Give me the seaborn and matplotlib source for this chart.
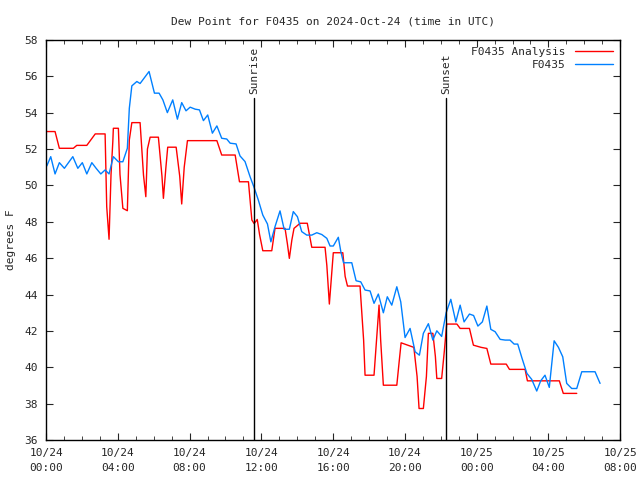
import seaborn as sns
import matplotlib.pyplot as plt
import matplotlib.dates as mdates
import pandas as pd

# hours after 2024-10-24 00:00 UTC
obs_hours = [0.04, 0.26, 0.50, 0.74, 1.02, 1.49, 1.77, 2.02, 2.27, 2.55, 2.79, 3.05, 3.29, 3.51,
             3.75, 4.03, 4.28, 4.53, 4.64, 4.78, 5.06, 5.24, 5.46, 5.74, 6.04, 6.30, 6.51, 6.76,
             7.06, 7.32, 7.56, 7.80, 8.03, 8.31, 8.55, 8.77, 9.01, 9.27, 9.52, 9.79, 10.07, 10.26,
             10.59, 10.81, 11.09, 11.37, 11.59, 11.83, 12.08, 12.34, 12.53, 12.76, 13.04, 13.27,
             13.56, 13.78, 14.01, 14.25, 14.53, 14.81, 15.09, 15.37, 15.65, 15.83, 16.01, 16.29,
             16.43, 16.58, 17.04, 17.28, 17.54, 17.78, 18.06, 18.28, 18.52, 18.80, 19.02, 19.27,
             19.55, 19.77, 20.01, 20.29, 20.57, 20.81, 21.03, 21.31, 21.56, 21.78, 22.05, 22.30,
             22.56, 22.84, 23.08, 23.30, 23.60, 23.83, 24.07, 24.32, 24.57, 24.79, 25.03, 25.31,
             25.59, 25.86, 26.09, 26.29, 26.53, 26.80, 27.07, 27.35, 27.57, 27.81, 28.05, 28.32,
             28.56, 28.80, 29.02, 29.30, 29.58, 29.86, 30.60, 30.88]
obs_dewpt = [51.07, 51.58, 50.63, 51.25, 50.94, 51.58, 50.94, 51.25, 50.63, 51.25, 50.94, 50.63,
             50.85, 50.63, 51.58, 51.30, 51.30, 52.04, 54.24, 55.47, 55.71, 55.60, 55.89, 56.26,
             55.07, 55.07, 54.70, 54.00, 54.70, 53.64, 54.55, 54.10, 54.30, 54.19, 54.15, 53.56,
             53.87, 52.87, 53.27, 52.59, 52.55, 52.32, 52.28, 51.62, 51.31, 50.48, 49.90, 49.20,
             48.37, 47.88, 46.90, 47.73, 48.60, 47.59, 47.59, 48.56, 48.28, 47.46, 47.27, 47.27,
             47.40, 47.30, 47.09, 46.67, 46.67, 47.15, 46.36, 45.75, 45.75, 44.76, 44.70, 44.25,
             44.20, 43.52, 44.03, 43.00, 43.88, 43.42, 44.43, 43.60, 41.64, 42.14, 40.86, 40.67,
             41.87, 42.40, 41.50, 42.01, 41.70, 43.00, 43.74, 42.50, 43.42, 42.50, 42.93, 42.85,
             42.27, 42.50, 43.37, 42.09, 41.96, 41.54, 41.50, 41.50, 41.28, 41.28, 40.50, 39.67,
             39.34, 38.70, 39.26, 39.57, 38.90, 41.46, 41.10, 40.58, 39.12, 38.84, 38.84, 39.76,
             39.76, 39.12]

ana_hours = [0.04, 0.50, 0.74, 1.52, 1.71, 2.27, 2.74, 3.29, 3.38, 3.51, 3.62, 3.72, 3.75, 4.03,
             4.12, 4.28, 4.53, 4.64, 4.78, 5.24, 5.43, 5.56, 5.65, 5.80, 6.26, 6.46, 6.54, 6.68,
             6.78, 7.25, 7.45, 7.56, 7.70, 7.88, 9.52, 9.79, 10.54, 10.78, 11.28, 11.47, 11.60,
             11.77, 11.90, 12.08, 12.58, 12.76, 13.32, 13.45, 13.56, 13.70, 13.82, 14.16, 14.56,
             14.81, 15.55, 15.65, 15.79, 15.87, 16.01, 16.54, 16.67, 16.80, 17.50, 17.70, 17.78,
             18.28, 18.42, 18.56, 18.65, 18.80, 19.55, 19.68, 19.79, 20.50, 20.68, 20.79, 21.03,
             21.20, 21.31, 21.56, 21.70, 21.78, 22.05, 22.20, 22.33, 22.90, 23.08, 23.60, 23.82,
             24.25, 24.57, 24.79, 25.65, 25.83, 26.70, 26.83, 28.61, 28.83, 29.58]
ana_dewpt = [52.96, 52.96, 52.04, 52.04, 52.20, 52.20, 52.83, 52.83, 48.83, 47.04, 50.60, 52.41,
             53.14, 53.14, 50.60, 48.74, 48.61, 52.50, 53.45, 53.45, 50.57, 49.38, 52.00, 52.65,
             52.65, 50.50, 49.29, 51.00, 52.10, 52.10, 50.50, 48.98, 51.00, 52.46, 52.46, 51.67,
             51.67, 50.20, 50.20, 48.10, 47.90, 48.13, 47.30, 46.41, 46.41, 47.64, 47.64, 46.80,
             45.99, 47.00, 47.64, 47.92, 47.92, 46.60, 46.60, 45.60, 43.48, 44.50, 46.30, 46.30,
             45.00, 44.47, 44.47, 41.50, 39.57, 39.57, 41.50, 43.42, 41.50, 39.02, 39.02, 40.30,
             41.35, 41.10, 39.50, 37.74, 37.74, 39.50, 41.87, 41.87, 40.60, 39.39, 39.39, 40.90,
             42.38, 42.38, 42.14, 42.14, 41.22, 41.10, 41.04, 40.18, 40.18, 39.89, 39.89, 39.26,
             39.26, 38.57, 38.57]

event_names = ["Sunrise", "Sunset"]
event_hours = [11.6, 22.3]

base = pd.Timestamp("2024-10-24 00:00")
obs = pd.DataFrame({"time": base + pd.to_timedelta(obs_hours, unit="h"), "dewpt": obs_dewpt})
ana = pd.DataFrame({"time": base + pd.to_timedelta(ana_hours, unit="h"), "dewpt": ana_dewpt})

sns.set_style("ticks")
plt.rcParams["font.family"] = ["DejaVu Sans Mono"]

fig = plt.figure(figsize=(6.4, 4.8), dpi=100)
ax = fig.add_axes([0.072, 0.083, 0.897, 0.834])

sns.lineplot(data=ana, x="time", y="dewpt", color="#ff0000", linewidth=1,
             label="F0435 Analysis", ax=ax, sort=False)
sns.lineplot(data=obs, x="time", y="dewpt", color="#0080ff", linewidth=1,
             label="F0435", ax=ax, sort=False)

for name, h in zip(event_names, event_hours):
    t = base + pd.Timedelta(hours=h)
    ax.plot([t, t], [36, 54.8], color="black", linewidth=1)
    ax.text(t, 55.0, name, rotation=90, ha="center", va="bottom", fontsize=8)

ax.set_xlim(base, base + pd.Timedelta(hours=32))
ax.set_ylim(36, 58)
ax.set_yticks(range(36, 59, 2))
ax.xaxis.set_major_locator(mdates.HourLocator(byhour=[0, 4, 8, 12, 16, 20]))
ax.xaxis.set_minor_locator(mdates.HourLocator())
ax.xaxis.set_major_formatter(mdates.DateFormatter("%m/%d\n%H:%M"))
ax.tick_params(which="both", direction="in", top=True, right=True, labelsize=8, pad=6)
ax.tick_params(axis="x", which="major", pad=6)
ax.tick_params(which="major", length=5)
ax.tick_params(which="minor", length=3)
for s in ax.spines.values():
    s.set_linewidth(1)
    s.set_color("black")

ax.set_xlabel("")
ax.set_ylabel("degrees F", fontsize=8, labelpad=6)
ax.set_title("Dew Point for F0435 on 2024-Oct-24 (time in UTC)", fontsize=8, pad=11)
ax.legend(loc="upper right", frameon=False, markerfirst=False, fontsize=8,
          handlelength=3.5, borderaxespad=0.2, labelspacing=0.3)

fig.canvas.draw()
plt.setp(ax.get_xticklabels(), linespacing=1.6)

fig.savefig("out.png", dpi=100)
